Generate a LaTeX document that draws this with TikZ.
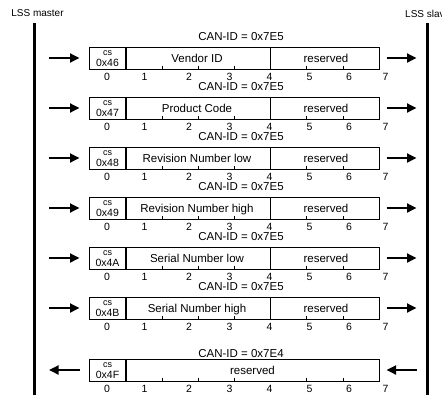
\documentclass[tikz,border=0pt]{standalone}
\usepackage{fontspec}
\setmainfont{Liberation Sans}
\usetikzlibrary{arrows.meta}
\tikzset{
  lane/.style={line width=3pt},
  frame/.style={draw, line width=1.1pt, rectangle, inner sep=0pt, minimum width=290pt, minimum height=22pt, anchor=north west},
  sep/.style={line width=1.1pt},
  tickmark/.style={line width=0.7pt},
  arr/.style={line width=1.8pt, -{Triangle[length=9.5pt,width=9pt]}},
  lbl/.style={font=\fontsize{10}{12}\selectfont, inner sep=0pt, anchor=base},
  num/.style={font=\fontsize{10.5}{12}\selectfont, inner sep=0pt, anchor=base},
  txt/.style={font=\fontsize{11.5}{13}\selectfont, inner sep=0pt, anchor=base},
  cstxt/.style={font=\fontsize{9}{10}\selectfont, inner sep=0pt, anchor=base},
  codetxt/.style={font=\fontsize{10.5}{12}\selectfont, inner sep=0pt, anchor=base}
}
\newcommand\canrow[6]{%
  % #1 index, #2 top y, #3 code, #4 label, #5 can id, #6 direction (r or l)
  \node[frame] (b#1) at (89,#2) {};
  \draw[sep] (126,#2) -- (126,#2+22);
  \foreach \xx in {162.1,198.3,234.4,306.7,342.9}
    \draw[tickmark] (\xx,#2+22) -- (\xx,#2+19.2);
  \node[cstxt] (cs#1) at (107.5,#2+8) {cs};
  \node[codetxt] (code#1) at (107.5,#2+19.7) {0x#3};
  \foreach \xx/\nn in {107/0,144.5/1,189/2,229.5/3,269.5/4,309.5/5,349/6,385.5/7}
    \node[num] at (\xx,#2+33.6) {\nn};
  \coordinate (la#1) at (49,#2+11);
  \coordinate (lb#1) at (79.5,#2+11);
  \coordinate (ra#1) at (386.5,#2+11);
  \coordinate (rb#1) at (416.5,#2+11);
  \if r#6
    \draw[arr] (la#1) -- (lb#1);
    \draw[arr] (ra#1) -- (rb#1);
  \else
    \draw[arr] (lb#1) -- (la#1);
    \draw[arr] (rb#1) -- (ra#1);
  \fi
}
\begin{document}
\begin{tikzpicture}[x=1pt,y=-1pt]
\useasboundingbox (0,0) rectangle (442,394);
\node[lbl] (m) at (37.5,16.9) {LSS master};
\node[lbl, anchor=base west] (s) at (405,17.6) {LSS slave};
\coordinate (mt) at (34.7,23);
\coordinate (mb) at (34.7,400);
\coordinate (st) at (427.7,23);
\coordinate (sb) at (427.7,400);
\draw[lane] (mt) -- (mb);
\draw[lane] (st) -- (sb);

\canrow{1}{47}{46}{Vendor ID}{0x7E5}{r}
\canrow{2}{97}{47}{Product Code}{0x7E5}{r}
\canrow{3}{147}{48}{Revision Number low}{0x7E5}{r}
\canrow{4}{197}{49}{Revision Number high}{0x7E5}{r}
\canrow{5}{247}{4A}{Serial Number low}{0x7E5}{r}
\canrow{6}{297}{4B}{Serial Number high}{0x7E5}{r}
\foreach \i/\t/\lab in {1/47/Vendor ID,2/97/Product Code,3/147/Revision Number low,4/197/Revision Number high,5/247/Serial Number low,6/297/Serial Number high}{
  \draw[sep] (270.6,\t) -- (270.6,\t+22);
  \node[txt] (can\i) at (241,\t-6.3) {CAN-ID = 0x7E5};
  \node[txt] (l\i) at (197,\t+15.2) {\lab};
  \node[txt] (r\i) at (326,\t+15.2) {reserved};
}
\canrow{7}{359}{4F}{}{0x7E4}{l}
\node[txt] (can7) at (241,357.3) {CAN-ID = 0x7E4};
\node[txt] (r7) at (252.5,359+15.2) {reserved};
\end{tikzpicture}
\end{document}
